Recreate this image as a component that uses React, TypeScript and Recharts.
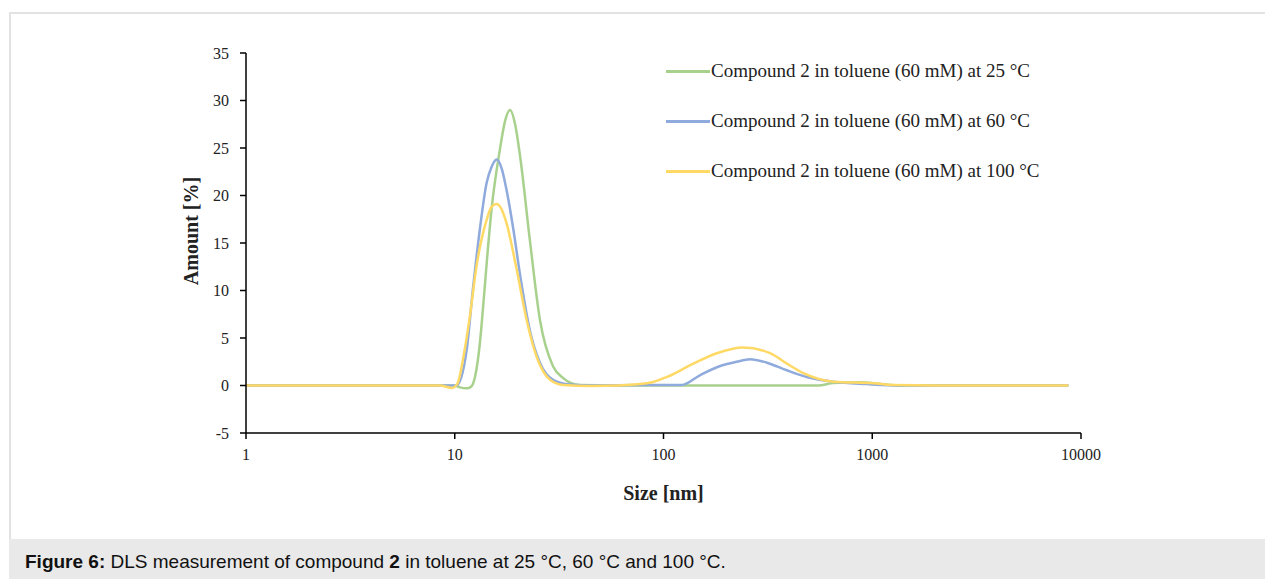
import { LineChart, Line, XAxis, YAxis, Legend } from 'recharts';

const GREEN = '#a9d18e';
const BLUE = '#8faadc';
const YELLOW = '#ffd966';

const SERIF = '"Liberation Serif", "Times New Roman", serif';

const xTicks = [1, 10, 100, 1000, 10000];
const yTicks = [-5, 0, 5, 10, 15, 20, 25, 30, 35];

const labels25 = 'Compound 2 in toluene (60 mM) at 25 °C';
const labels60 = 'Compound 2 in toluene (60 mM) at 60 °C';
const labels100 = 'Compound 2 in toluene (60 mM) at 100 °C';
const legendOrder = [labels25, labels60, labels100];

// size [nm] and amount [%]
const sizes25 = [1, 8.5, 10.0, 10.6, 11.4, 12.0, 12.5, 13.2, 13.7, 14.3, 15.0, 16.5, 17.4, 18.4, 19.5, 20.6, 22.9, 25.6, 29.6, 33, 35.7, 40, 60, 100, 300, 550, 652, 875, 1100, 1361, 3000, 8700];
const amount25 = [0, 0, 0, -0.2, -0.3, -0.1, 0.9, 4.5, 8.5, 13.5, 18.5, 25, 27.8, 29.0, 27.4, 24, 15.3, 6.9, 2, 0.8, 0.3, 0.05, 0, 0, 0, 0, 0.25, 0.35, 0.15, 0, 0, 0];

const sizes60 = [1, 9.0, 10.2, 11.4, 12.2, 13.2, 14.2, 15.0, 15.9, 16.8, 17.7, 19.1, 20.6, 22.9, 25.6, 29.6, 35.7, 45, 80, 122, 150, 187, 224, 260, 313, 390, 486, 652, 942, 1361, 3000, 8700];
const amount60 = [0, 0, 0, 3.7, 10, 16.5, 21.3, 23.0, 23.8, 22.8, 20.6, 16.4, 11.5, 5.8, 2.4, 0.6, 0.1, 0, 0.05, 0.05, 1.1, 2.05, 2.5, 2.76, 2.4, 1.6, 0.9, 0.4, 0.15, 0, 0, 0];

const sizes100 = [1, 8.5, 9.7, 10.3, 11.0, 11.8, 12.7, 14.2, 15.0, 15.9, 16.8, 17.7, 19.8, 22.1, 24.7, 28.6, 33.1, 45, 60, 72, 90, 104, 139, 180, 241, 324, 390, 468, 652, 1014, 1259, 2000, 8700];
const amount100 = [0, 0, -0.25, 0.2, 3.0, 7.2, 12.5, 17.4, 18.8, 19.1, 18.5, 17.1, 12.2, 6.9, 3.0, 0.6, 0.05, -0.05, 0, 0.1, 0.4, 0.9, 2.3, 3.4, 4.0, 3.4, 2.3, 1.3, 0.4, 0.23, 0.05, 0, 0];

const toPoints = (xs: number[], ys: number[]) => xs.map((size, i) => ({ size, amount: ys[i] }));

const data25 = toPoints(sizes25, amount25);
const data60 = toPoints(sizes60, amount60);
const data100 = toPoints(sizes100, amount100);

function LegendBox({ payload }: any) {
  const items = [...(payload || [])].sort(
    (a: any, b: any) => legendOrder.indexOf(a.value) - legendOrder.indexOf(b.value),
  );
  return (
    <div style={{ fontFamily: SERIF, fontSize: 19, color: '#222' }}>
      {items.map((p: any) => (
        <div key={p.value} style={{ display: 'flex', alignItems: 'center', height: 50 }}>
          <span style={{ display: 'inline-block', width: 44, height: 3, background: p.color }} />
          <span style={{ marginLeft: 1 }}>{p.value}</span>
        </div>
      ))}
    </div>
  );
}

export default function App() {
  return (
    <div style={{ position: 'absolute', left: 0, top: 0, width: 1265, height: 579, overflow: 'hidden', background: '#fff' }}>
      <div style={{ position: 'absolute', left: 9, top: 12, width: 1256, height: 527, borderLeft: '2px solid #e2e2e2', borderTop: '2px solid #e2e2e2', boxSizing: 'border-box' }} />
      <div style={{ position: 'absolute', left: 0, top: 0 }}>
        <LineChart width={1265} height={530} margin={{ top: 53, right: 184, bottom: 27, left: 136 }}>
          <XAxis
            type="number"
            dataKey="size"
            scale="log"
            domain={[1, 10000]}
            ticks={xTicks}
            allowDataOverflow
            height={70}
            tick={{ fontSize: 16, fill: '#222', fontFamily: SERIF }}
            tickSize={6}
            tickMargin={10}
            axisLine={{ stroke: '#000', strokeWidth: 1.5 }}
            tickLine={{ stroke: '#000', strokeWidth: 1.5 }}
            label={{ value: 'Size [nm]', position: 'insideBottom', offset: 3, fontSize: 20, fontWeight: 'bold', fill: '#222', fontFamily: SERIF }}
          />
          <YAxis
            type="number"
            dataKey="amount"
            domain={[-5, 35]}
            ticks={yTicks}
            width={110}
            tick={{ fontSize: 16, fill: '#222', fontFamily: SERIF }}
            tickSize={6}
            tickMargin={11}
            axisLine={{ stroke: '#000', strokeWidth: 1.5 }}
            tickLine={{ stroke: '#000', strokeWidth: 1.5 }}
            label={{
              content: ({ viewBox }: any) => {
                const cx = viewBox.x + viewBox.width / 2;
                const cy = viewBox.y + viewBox.height / 2 - 12;
                return (
                  <text x={cx} y={cy} transform={`rotate(-90 ${cx} ${cy})`} textAnchor="middle" dominantBaseline="central"
                    style={{ fontSize: 20, fontWeight: 'bold', fill: '#222', fontFamily: SERIF }}>
                    Amount [%]
                  </text>
                );
              },
            }}
          />
          <Legend
            layout="horizontal"
            verticalAlign="middle"
            align="center"
            content={<LegendBox />}
            wrapperStyle={{ left: 666, top: 46, width: 440 }}
          />
          <Line data={data25} type="monotone" dataKey="amount" name={labels25} stroke={GREEN} strokeWidth={2.5} dot={false} isAnimationActive={false} />
          <Line data={data60} type="monotone" dataKey="amount" name={labels60} stroke={BLUE} strokeWidth={2.5} dot={false} isAnimationActive={false} />
          <Line data={data100} type="monotone" dataKey="amount" name={labels100} stroke={YELLOW} strokeWidth={2.5} dot={false} isAnimationActive={false} />
        </LineChart>
      </div>
      <div style={{ position: 'absolute', left: 9, top: 539, width: 1256, height: 40, background: '#e9e9e9', fontFamily: '"Liberation Sans", Arial, sans-serif', fontSize: 19, color: '#111', lineHeight: '46px', paddingLeft: 16, boxSizing: 'border-box' }}>
        <b>Figure 6:</b> DLS measurement of compound <b>2</b> in toluene at 25 °C, 60 °C and 100 °C.
      </div>
    </div>
  );
}
